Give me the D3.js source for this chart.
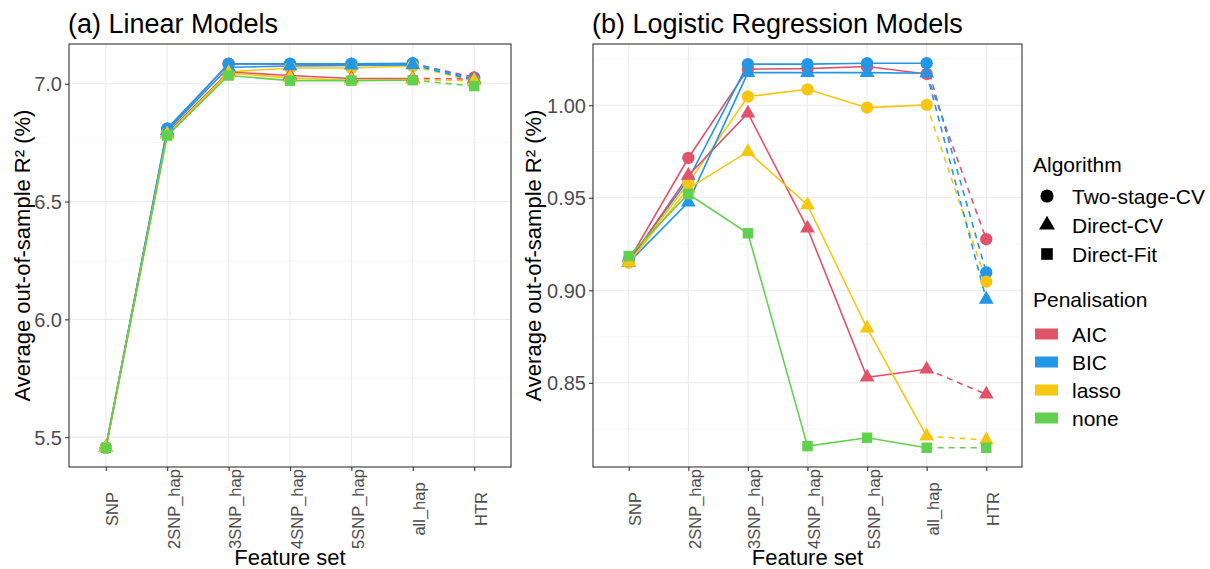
<!DOCTYPE html>
<html>
<head>
<meta charset="utf-8">
<script src="https://cdn.jsdelivr.net/npm/d3@7"></script>
<style>
  body { margin: 0; background: #fff; }
  svg { font-family: "Liberation Sans", Arial, sans-serif; display: block; }
</style>
</head>
<body>
<div id="chart"></div>
<script>
// feature sets on the x axis
const featureSets = ["SNP", "2SNP_hap", "3SNP_hap", "4SNP_hap", "5SNP_hap", "all_hap", "HTR"];
const algorithms = ["Two-stage-CV", "Direct-CV", "Direct-Fit"];
const penalisations = ["AIC", "BIC", "lasso", "none"];

// (a) linear models, R2 in %
const linTwoStageAIC   = [5.455, 6.805, 7.085, 7.083, 7.083, 7.085, 7.027];
const linTwoStageBIC   = [5.455, 6.810, 7.084, 7.085, 7.085, 7.087, 7.020];
const linTwoStageLasso = [5.455, 6.790, 7.050, 7.067, 7.067, 7.075, 7.010];
const linDirectAIC     = [5.455, 6.790, 7.050, 7.035, 7.022, 7.022, 7.020];
const linDirectBIC     = [5.455, 6.800, 7.070, 7.075, 7.078, 7.080, 7.015];
const linDirectLasso   = [5.455, 6.785, 7.045, 7.025, 7.015, 7.018, 7.012];
const linFitNone       = [5.455, 6.780, 7.035, 7.013, 7.013, 7.015, 6.990];

// (b) logistic regression models
const logTwoStageAIC   = [0.9160, 0.9715, 1.0195, 1.0198, 1.0209, 1.0169, 0.9276];
const logTwoStageBIC   = [0.9160, 0.9600, 1.0222, 1.0222, 1.0227, 1.0227, 0.9097];
const logTwoStageLasso = [0.9150, 0.9580, 1.0047, 1.0086, 0.9987, 1.0002, 0.9047];
const logDirectAIC     = [0.9150, 0.9620, 0.9957, 0.9335, 0.8530, 0.8573, 0.8438];
const logDirectBIC     = [0.9150, 0.9476, 1.0176, 1.0176, 1.0176, 1.0173, 0.8951];
const logDirectLasso   = [0.9150, 0.9550, 0.9749, 0.9461, 0.8795, 0.8212, 0.8191];
const logFitNone       = [0.9185, 0.9520, 0.9308, 0.8158, 0.8203, 0.8149, 0.8149];

const linTicks = [5.5, 6.0, 6.5, 7.0];
const linMinor = [5.75, 6.25, 6.75];
const logTicks = [0.85, 0.90, 0.95, 1.00];
const logMinor = [0.825, 0.875, 0.925, 0.975, 1.025];

const linearSeries = [
    { alg: "Two-stage-CV", pen: "AIC", values: linTwoStageAIC },
    { alg: "Two-stage-CV", pen: "BIC", values: linTwoStageBIC },
    { alg: "Two-stage-CV", pen: "lasso", values: linTwoStageLasso },
    { alg: "Direct-CV", pen: "AIC", values: linDirectAIC },
    { alg: "Direct-CV", pen: "BIC", values: linDirectBIC },
    { alg: "Direct-CV", pen: "lasso", values: linDirectLasso },
    { alg: "Direct-Fit", pen: "none", values: linFitNone }
];
const logisticSeries = [
    { alg: "Two-stage-CV", pen: "AIC", values: logTwoStageAIC },
    { alg: "Two-stage-CV", pen: "BIC", values: logTwoStageBIC },
    { alg: "Two-stage-CV", pen: "lasso", values: logTwoStageLasso },
    { alg: "Direct-CV", pen: "AIC", values: logDirectAIC },
    { alg: "Direct-CV", pen: "BIC", values: logDirectBIC },
    { alg: "Direct-CV", pen: "lasso", values: logDirectLasso },
    { alg: "Direct-Fit", pen: "none", values: logFitNone }
];

const color = d3.scaleOrdinal().domain(penalisations)
    .range(["#DF536B", "#2297E6", "#F5C710", "#61D04F"]);
const shape = d3.scaleOrdinal().domain(algorithms)
    .range([d3.symbolCircle, d3.symbolTriangle, d3.symbolSquare]);
const symSize = { "Two-stage-CV": 120, "Direct-CV": 95, "Direct-Fit": 110 };

const width = 1210, height = 569;
const svg = d3.select("#chart").append("svg")
    .attr("width", width).attr("height", height);

function drawPanel(opts) {
    const { left, right, top, bottom, series, ticks, minor, fmt, title, yTitleX } = opts;

    const x = d3.scalePoint().domain(featureSets).range([left, right]).padding(0.6);
    const all = series.flatMap(s => s.values);
    const [lo, hi] = d3.extent(all);
    const pad = (hi - lo) * 0.05;
    const y = d3.scaleLinear().domain([lo - pad, hi + pad]).range([bottom, top]);

    const g = svg.append("g");

    // grid
    g.selectAll(".minor").data(minor).enter().append("line")
        .attr("x1", left).attr("x2", right)
        .attr("y1", d => y(d)).attr("y2", d => y(d))
        .attr("stroke", "#F2F2F2").attr("stroke-width", 0.6);
    g.selectAll(".hmajor").data(ticks).enter().append("line")
        .attr("x1", left).attr("x2", right)
        .attr("y1", d => y(d)).attr("y2", d => y(d))
        .attr("stroke", "#EBEBEB").attr("stroke-width", 1.1);
    g.selectAll(".vmajor").data(featureSets).enter().append("line")
        .attr("x1", d => x(d)).attr("x2", d => x(d))
        .attr("y1", top).attr("y2", bottom)
        .attr("stroke", "#EBEBEB").attr("stroke-width", 1.1);

    // solid segments up to all_hap, dashed from all_hap to HTR
    const solid = d3.line()
        .x((d, i) => x(featureSets[i]))
        .y(d => y(d));
    const lines = g.append("g");
    series.forEach(s => {
        lines.append("path")
            .attr("d", solid(s.values.slice(0, 6)))
            .attr("fill", "none")
            .attr("stroke", color(s.pen))
            .attr("stroke-width", 1.6);
        lines.append("line")
            .attr("x1", x(featureSets[5])).attr("y1", y(s.values[5]))
            .attr("x2", x(featureSets[6])).attr("y2", y(s.values[6]))
            .attr("stroke", color(s.pen))
            .attr("stroke-width", 1.6)
            .attr("stroke-dasharray", "6,5");
    });

    const points = g.append("g");
    series.forEach(s => {
        points.selectAll(null).data(s.values).enter().append("path")
            .attr("transform", (d, i) => `translate(${x(featureSets[i])},${y(d)})`)
            .attr("d", d3.symbol().type(shape(s.alg)).size(symSize[s.alg]))
            .attr("fill", color(s.pen));
    });

    // panel border
    g.append("rect")
        .attr("x", left).attr("y", top)
        .attr("width", right - left).attr("height", bottom - top)
        .attr("fill", "none").attr("stroke", "#333333").attr("stroke-width", 1.1);

    // y axis
    const yAxis = g.append("g")
        .attr("transform", `translate(${left},0)`)
        .call(d3.axisLeft(y).tickValues(ticks).tickFormat(fmt).tickSize(4).tickPadding(3));
    yAxis.select(".domain").remove();
    yAxis.selectAll(".tick line").attr("stroke", "#333333").attr("stroke-width", 1.1);
    yAxis.selectAll(".tick text")
        .attr("fill", "#4D4D4D").style("font-size", "20px")
        .attr("dy", "0.35em");

    // x axis
    const xAxis = g.append("g")
        .attr("transform", `translate(0,${bottom})`)
        .call(d3.axisBottom(x).tickSize(4).tickSizeOuter(0));
    xAxis.select(".domain").remove();
    xAxis.selectAll(".tick line").attr("stroke", "#333333").attr("stroke-width", 1.1);
    xAxis.selectAll(".tick text")
        .attr("fill", "#4D4D4D").style("font-size", "16.5px")
        .attr("text-anchor", "middle")
        .attr("dy", null)
        .attr("y", 0)
        .attr("transform", `translate(12,${509 - bottom}) rotate(-90)`);

    // titles
    svg.append("text")
        .attr("x", left - 1).attr("y", 33)
        .style("font-size", "27px").attr("fill", "#000")
        .text(title);
    svg.append("text")
        .attr("x", (left + right) / 2).attr("y", 565)
        .attr("text-anchor", "middle")
        .style("font-size", "22px").attr("fill", "#000")
        .text("Feature set");
    svg.append("text")
        .attr("transform", `translate(${yTitleX},${(top + bottom) / 2}) rotate(-90)`)
        .attr("text-anchor", "middle")
        .style("font-size", "22px").attr("fill", "#000")
        .text("Average out-of-sample R² (%)");
}

drawPanel({
    left: 69, right: 511, top: 44, bottom: 467,
    series: linearSeries, ticks: linTicks, minor: linMinor,
    fmt: d3.format(".1f"), title: "(a) Linear Models", yTitleX: 30
});
drawPanel({
    left: 593, right: 1022, top: 44, bottom: 467,
    series: logisticSeries, ticks: logTicks, minor: logMinor,
    fmt: d3.format(".2f"), title: "(b) Logistic Regression Models", yTitleX: 541
});

// legend
const legend = svg.append("g");
legend.append("text")
    .attr("x", 1033).attr("y", 172)
    .style("font-size", "21px").text("Algorithm");
const algRow = d3.scalePoint().domain(algorithms).range([196, 254]);
legend.selectAll(".alg").data(algorithms).enter().append("path")
    .attr("transform", d => `translate(1047,${algRow(d)})`)
    .attr("d", d => d3.symbol().type(shape(d)).size(d === "Direct-CV" ? 110 : 135)())
    .attr("fill", "#000");
legend.selectAll(".algtxt").data(algorithms).enter().append("text")
    .attr("x", 1072).attr("y", d => algRow(d) + 7.5)
    .style("font-size", "21px").text(d => d);

legend.append("text")
    .attr("x", 1033).attr("y", 307)
    .style("font-size", "21px").text("Penalisation");
const penRow = d3.scalePoint().domain(penalisations).range([334, 418]);
legend.selectAll(".pen").data(penalisations).enter().append("rect")
    .attr("x", 1035).attr("y", d => penRow(d) - 5.5)
    .attr("width", 23).attr("height", 11)
    .attr("fill", d => color(d));
legend.selectAll(".pentxt").data(penalisations).enter().append("text")
    .attr("x", 1072).attr("y", d => penRow(d) + 7.5)
    .style("font-size", "21px").text(d => d);
</script>
</body>
</html>
